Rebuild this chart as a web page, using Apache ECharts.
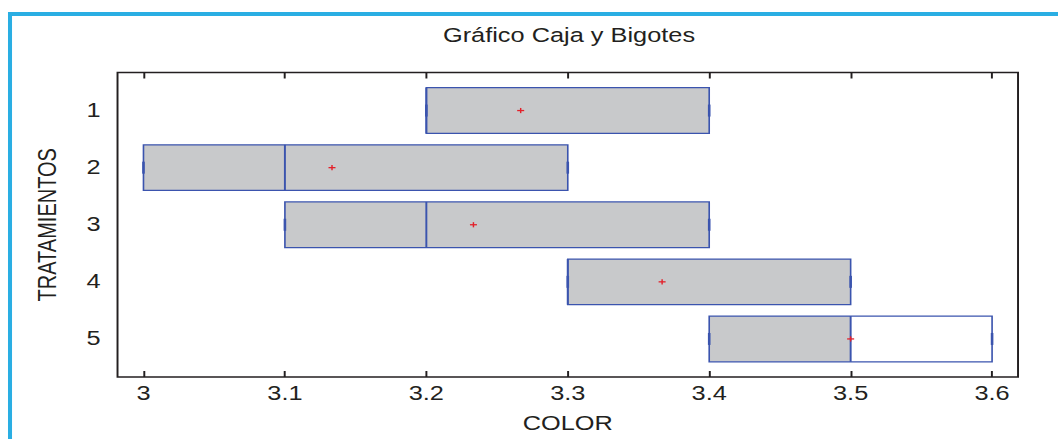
<!DOCTYPE html>
<html>
<head>
<meta charset="utf-8">
<script src="https://cdn.jsdelivr.net/npm/echarts@6/dist/echarts.min.js"></script>
<style>
  html, body { margin: 0; padding: 0; background: #ffffff; overflow: hidden; }
  /* the chart is laid out narrow and widened horizontally */
  #chart { width: 814px; height: 439px; transform: scaleX(1.3); transform-origin: 0 0; }
</style>
</head>
<body>
<div id="chart"></div>
<script>
// Treatments on the vertical axis
const treatments = ['1', '2', '3', '4', '5'];

// COLOR summary per treatment
const minValues     = [3.2, 3.0, 3.1, 3.3, 3.4];
const lowerQuartile = [3.2, 3.0, 3.1, 3.3, 3.4];
const medianValues  = [3.2, 3.1, 3.2, 3.3, 3.5];
const upperQuartile = [3.4, 3.3, 3.4, 3.5, 3.6];
const maxValues     = [3.4, 3.3, 3.4, 3.5, 3.6];
const meanValues    = [3.2667, 3.1333, 3.2333, 3.3667, 3.5];

// Tick labels of the COLOR axis
const colorTicks = [3, 3.1, 3.2, 3.3, 3.4, 3.5, 3.6];

// Boxes whose upper half is drawn unfilled
const hollowUpperHalf = [false, false, false, false, true];

const FONT = '"Liberation Sans", Arial, sans-serif';
const TEXT = '#231f20';
const BOX_FILL = '#c8c9cb';
const BOX_EDGE = '#3b54ae';
const MEAN_RED = '#e3212b';
const FRAME_CYAN = '#2aaee3';

const boxData = treatments.map((t, i) => [
  i + 1, minValues[i], lowerQuartile[i], medianValues[i],
  upperQuartile[i], maxValues[i], meanValues[i]
]);

function renderBox(params, api) {
  const idx = params.dataIndex;
  const pos = api.value(0);
  const vMin = api.value(1), q1 = api.value(2), med = api.value(3);
  const q3 = api.value(4), vMax = api.value(5), mean = api.value(6);

  const yTop = api.coord([q1, pos - 0.4])[1];
  const yBot = api.coord([q1, pos + 0.4])[1];
  const yMid = api.coord([q1, pos])[1];
  const capTop = api.coord([q1, pos - 0.105])[1];
  const capBot = api.coord([q1, pos + 0.105])[1];
  const px = v => api.coord([v, pos])[0];
  const xMin = px(vMin), xQ1 = px(q1), xMed = px(med), xQ3 = px(q3), xMax = px(vMax), xMean = px(mean);
  const h = yBot - yTop;

  const lineStyle = (w) => ({ stroke: BOX_EDGE, lineWidth: w, fill: null });

  return {
    type: 'group',
    children: [
      { type: 'rect', shape: { x: xQ1, y: yTop, width: xMed - xQ1, height: h },
        style: { fill: BOX_FILL, stroke: null } },
      { type: 'rect', shape: { x: xMed, y: yTop, width: xQ3 - xMed, height: h },
        style: { fill: hollowUpperHalf[idx] ? '#ffffff' : BOX_FILL, stroke: null } },
      { type: 'rect', shape: { x: xQ1, y: yTop, width: xQ3 - xQ1, height: h },
        style: { fill: null, stroke: BOX_EDGE, lineWidth: 1.25 } },
      // whiskers
      { type: 'line', shape: { x1: xMin, y1: yMid, x2: xQ1, y2: yMid }, style: lineStyle(1.2) },
      { type: 'line', shape: { x1: xQ3, y1: yMid, x2: xMax, y2: yMid }, style: lineStyle(1.2) },
      // whisker caps
      { type: 'line', shape: { x1: xMin, y1: capTop, x2: xMin, y2: capBot }, style: lineStyle(2) },
      { type: 'line', shape: { x1: xMax, y1: capTop, x2: xMax, y2: capBot }, style: lineStyle(2) },
      // median
      { type: 'line', shape: { x1: xMed, y1: yTop, x2: xMed, y2: yBot }, style: lineStyle(1.5) },
      // mean marker
      { type: 'line', shape: { x1: xMean - 2.7, y1: yMid, x2: xMean + 2.7, y2: yMid },
        style: { stroke: MEAN_RED, lineWidth: 1.3 } },
      { type: 'line', shape: { x1: xMean, y1: yMid - 2.6, x2: xMean, y2: yMid + 2.6 },
        style: { stroke: MEAN_RED, lineWidth: 1.1 } }
    ]
  };
}

const chart = echarts.init(document.getElementById('chart'), null, { renderer: 'svg' });

const xRange = { min: 2.98165, max: 3.61835 };

chart.setOption({
  animation: false,
  backgroundColor: '#ffffff',
  textStyle: { fontFamily: FONT },
  title: {
    text: 'Gráfico Caja y Bigotes',
    left: 437.7,
    top: 26,
    padding: 0,
    textAlign: 'center',
    textStyle: { fontFamily: FONT, fontSize: 19.5, fontWeight: 'normal', color: TEXT }
  },
  graphic: [
    { type: 'line', shape: { x1: 6.15, y1: 14, x2: 814, y2: 14 },
      style: { stroke: FRAME_CYAN, lineWidth: 4 }, silent: true },
    { type: 'line', shape: { x1: 7.7, y1: 12, x2: 7.7, y2: 439 },
      style: { stroke: FRAME_CYAN, lineWidth: 3.1 }, silent: true }
  ],
  grid: {
    left: 90.4, right: 30.9, top: 72.5, bottom: 62,
    show: true, borderColor: TEXT, borderWidth: 1.5, backgroundColor: 'transparent'
  },
  xAxis: [
    {
      type: 'value', position: 'bottom', min: xRange.min, max: xRange.max,
      name: 'COLOR', nameLocation: 'middle', nameGap: 37,
      nameTextStyle: { fontFamily: FONT, fontSize: 19.5, color: TEXT },
      axisLine: { show: false },
      axisTick: { show: true, inside: true, length: 6, customValues: colorTicks,
                  lineStyle: { color: TEXT, width: 1.5 } },
      axisLabel: { customValues: colorTicks, margin: 7, fontFamily: FONT, fontSize: 19.5, color: TEXT,
                   formatter: v => String(v) },
      splitLine: { show: false }
    },
    {
      type: 'value', position: 'top', min: xRange.min, max: xRange.max,
      axisLine: { show: false },
      axisTick: { show: true, inside: true, length: 6, customValues: colorTicks,
                  lineStyle: { color: TEXT, width: 1.5 } },
      axisLabel: { show: false },
      splitLine: { show: false }
    }
  ],
  yAxis: {
    type: 'value', inverse: true, min: 1 / 3, max: 17 / 3,
    name: 'TRATAMIENTOS', nameLocation: 'middle', nameGap: 44.5, nameRotate: 90,
    nameTextStyle: { fontFamily: FONT, fontSize: 20, color: TEXT },
    axisLine: { show: false },
    axisTick: { show: false },
    axisLabel: { customValues: [1, 2, 3, 4, 5], margin: 13, fontFamily: FONT, fontSize: 19.5, color: TEXT,
                 formatter: v => treatments[Math.round(v) - 1] },
    splitLine: { show: false }
  },
  series: [{
    type: 'custom',
    xAxisIndex: 0,
    renderItem: renderBox,
    encode: { x: [1, 2, 3, 4, 5, 6], y: 0 },
    data: boxData,
    z: 3
  }]
});
</script>
</body>
</html>
